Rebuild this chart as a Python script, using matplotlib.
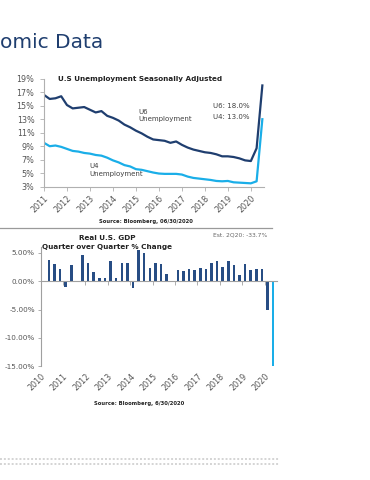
import numpy as np
import matplotlib
matplotlib.use("Agg")
import matplotlib.pyplot as plt

W, H = 370, 480

# unemployment, quarterly from 2011 Q1 to 2020 Q2 (in %)
quarters = 2011 + 0.25 * np.arange(39)
u6 = [16.6, 16.0, 16.1, 16.4, 15.1, 14.6, 14.7, 14.8, 14.4, 14.0,
      14.2, 13.5, 13.2, 12.8, 12.2, 11.8, 11.3, 10.9, 10.4, 10.0,
      9.9, 9.8, 9.5, 9.7, 9.2, 8.8, 8.5, 8.3, 8.1, 8.0,
      7.8, 7.5, 7.5, 7.4, 7.2, 6.9, 6.8, 8.7, 18.0]
u4 = [9.5, 9.0, 9.1, 8.9, 8.6, 8.3, 8.2, 8.0, 7.9, 7.7,
      7.6, 7.3, 6.9, 6.6, 6.2, 6.0, 5.6, 5.5, 5.3, 5.1,
      4.95, 4.9, 4.9, 4.9, 4.8, 4.5, 4.3, 4.2, 4.1, 4.0,
      3.85, 3.8, 3.85, 3.65, 3.6, 3.55, 3.5, 3.8, 13.0]
unemp_years = list(range(2011, 2021))

# real GDP q/q % change, 2010 Q2 .. 2020 Q2 (last one is the estimate)
gdp = [3.8, 3.1, 2.1, -1.0, 2.9, -0.1, 4.7, 3.2, 1.7, 0.6,
       0.5, 3.6, 0.5, 3.2, 3.2, -1.1, 5.5, 5.0, 2.3, 3.2,
       3.0, 1.3, 0.1, 2.0, 1.9, 2.2, 2.0, 2.3, 2.2, 3.2,
       3.5, 2.5, 3.5, 2.9, 1.1, 3.1, 2.0, 2.1, 2.1, -5.0, -33.7]
gdp_years = list(range(2010, 2021))
gdp_ticks = ["5.00%", "0.00%", "-5.00%", "-10.00%", "-15.00%"]

navy = "#1f3e6f"
cyan = "#1aaee8"
bar_blue = "#274d84"
txt = "#404040"


def box(x0, y0, x1, y1):
    # pixel box -> figure fraction
    return [x0 / W, 1 - y1 / H, (x1 - x0) / W, (y1 - y0) / H]


def ftext(x, y, s, **kw):
    fig.text(x / W, 1 - y / H, s, **kw)


fig = plt.figure(figsize=(W / 100, H / 100), dpi=100)

ftext(0, 48, "omic Data", fontsize=14.5, color=navy, va="baseline")

# ---- unemployment chart
ax = fig.add_axes(box(43.5, 78.7, 263.5, 186.7))
ax.plot(quarters, u6, color=navy, lw=1.6)
ax.plot(quarters, u4, color=cyan, lw=1.6)
ax.set_xlim(2010.98, 2020.55)
ax.set_ylim(3, 19)
ax.set_yticks(range(3, 20, 2))
ax.set_yticklabels([f"{v}%" for v in range(3, 20, 2)])
ax.set_xticks(unemp_years)
ax.set_xticklabels([str(y) for y in unemp_years], rotation=45, ha="right",
                   rotation_mode="anchor")
for s in ["top", "right"]:
    ax.spines[s].set_visible(False)
for s in ["left", "bottom"]:
    ax.spines[s].set_color("#b0b0b0")
    ax.spines[s].set_linewidth(0.8)
ax.tick_params(axis="both", colors="#b0b0b0", labelcolor="#555555",
               labelsize=5.8, length=3, width=0.6)
ax.tick_params(axis="x", pad=2)

ftext(140, 79, "U.S Unemployment Seasonally Adjusted", fontsize=5.2,
      fontweight="bold", ha="center", va="center", color="#222222")
ftext(138, 112, "U6", fontsize=5, color=txt, va="center")
ftext(138, 119.5, "Unemployment", fontsize=5, color=txt, va="center")
ftext(89, 166, "U4", fontsize=5, color=txt, va="center")
ftext(89, 174, "Unemployment", fontsize=5, color=txt, va="center")
ftext(213, 106, "U6: 18.0%", fontsize=5, color=txt, va="center")
ftext(213, 117, "U4: 13.0%", fontsize=5, color=txt, va="center")
ftext(146, 222, "Source: Bloomberg, 06/30/2020", fontsize=3.8,
      fontweight="bold", ha="center", va="center", color="#222222")

fig.add_artist(plt.Line2D([0, 272 / W], [1 - 228 / H] * 2, color="#9a9a9a",
                          lw=0.9))

# ---- GDP chart
bx = fig.add_axes(box(40.5, 247.3, 276.5, 366.3))
idx = np.arange(len(gdp))
colors = [bar_blue] * (len(gdp) - 1) + [cyan]
bx.bar(idx, gdp, width=0.45, color=colors)
bx.set_xlim(-1.5, 40.6)
bx.set_ylim(-15, 6)
bx.set_yticks([5, 0, -5, -10, -15])
bx.set_yticklabels(gdp_ticks)
for s in ["top", "right"]:
    bx.spines[s].set_visible(False)
bx.spines["bottom"].set_position(("data", 0))
for s in ["left", "bottom"]:
    bx.spines[s].set_color("#a0a0a0")
    bx.spines[s].set_linewidth(0.8)
year_pos = [-1.5 + 4 * k for k in range(len(gdp_years))]
bx.set_xticks(year_pos)
bx.tick_params(axis="x", labelbottom=False, direction="out", length=3,
               colors="#a0a0a0", width=0.6)
bx.tick_params(axis="y", colors="#a0a0a0", labelcolor="#555555",
               labelsize=5.2, length=2, width=0.6, pad=2)
sec = bx.secondary_xaxis(0)
sec.set_xticks(year_pos)
sec.set_xticklabels([str(y) for y in gdp_years], rotation=45, ha="right",
                    rotation_mode="anchor")
sec.tick_params(length=0, labelsize=5.8, labelcolor="#555555", pad=4)
sec.spines["bottom"].set_visible(False)

ftext(107, 237.5, "Real U.S. GDP", fontsize=5.2, fontweight="bold",
      ha="center", va="center", color="#222222")
ftext(107, 247, "Quarter over Quarter % Change", fontsize=5.2,
      fontweight="bold", ha="center", va="center", color="#222222")
ftext(240, 235, "Est. 2Q20: -33.7%", fontsize=4.3, ha="center",
      va="center", color="#666666")
ftext(139, 403, "Source: Bloomberg, 6/30/2020", fontsize=3.8,
      fontweight="bold", ha="center", va="center", color="#222222")

# dotted footer band
for yy in (459, 464):
    fig.add_artist(plt.Line2D([0, 280 / W], [1 - yy / H] * 2,
                              color="#d4d4d4", lw=1.4, ls=(0, (1, 1))))

fig.savefig("out.png", dpi=100)
